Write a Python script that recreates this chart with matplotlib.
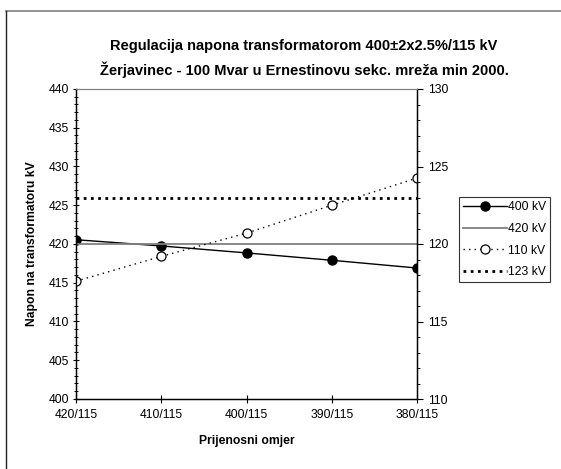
import matplotlib.pyplot as plt
from matplotlib.lines import Line2D
from matplotlib.ticker import MultipleLocator

plt.rcParams['font.family'] = ['Liberation Sans', 'DejaVu Sans']

omjeri = ['420/115', '410/115', '400/115', '390/115', '380/115']
napon_400 = [420.55, 419.75, 418.85, 417.9, 416.9]
napon_420 = [420, 420, 420, 420, 420]
napon_110 = [117.6, 119.2, 120.7, 122.5, 124.25]
napon_123 = [123, 123, 123, 123, 123]

x = list(range(len(omjeri)))

fig = plt.figure(figsize=(5.61, 4.69), dpi=100)
ax = fig.add_axes([76 / 561, 1 - 399 / 469, (417 - 76) / 561, (399 - 89) / 469])
ax2 = ax.twinx()

l1, = ax.plot(x, napon_400, color='black', lw=1.0, marker='o', ms=6.5,
              markerfacecolor='black', label='400 kV')
l2, = ax.plot(x, napon_420, color='#808080', lw=1.3, label='420 kV')
l3, = ax2.plot(x, napon_110, color='black', lw=1.0, ls=(0, (1, 3)), marker='o', ms=6.5,
               markerfacecolor='white', markeredgewidth=0.9, label='110 kV')
l4, = ax2.plot(x, napon_123, color='black', lw=2.0, ls=(0, (1, 1.6)), label='123 kV')

ax.set_xlim(0, 4)
ax.set_ylim(400, 440)
ax2.set_ylim(110, 130)
ax.set_xticks(x)
ax.set_xticklabels(omjeri)
ax.yaxis.set_major_locator(MultipleLocator(5))
ax.yaxis.set_minor_locator(MultipleLocator(1))
ax2.yaxis.set_major_locator(MultipleLocator(5))
ax2.yaxis.set_minor_locator(MultipleLocator(1))
ax.tick_params(axis='x', direction='inout', length=6, width=0.8, labelsize=8.7, pad=4)
ax.tick_params(axis='y', direction='inout', length=4.5, width=0.8, labelsize=8.7, pad=3)
ax.tick_params(axis='y', which='minor', direction='inout', length=3, width=0.7)
ax2.tick_params(axis='y', direction='out', length=4, width=0.8, labelsize=8.7, pad=4)
ax2.tick_params(axis='y', which='minor', direction='out', length=2.5, width=0.7)

for a in (ax, ax2):
    a.spines['top'].set_color('#808080')
    a.spines['top'].set_linewidth(0.8)
    a.spines['left'].set_linewidth(0.9)
    a.spines['right'].set_linewidth(0.9)
    a.spines['bottom'].set_linewidth(0.9)

ax.set_ylabel('Napon na transformatoru kV', fontsize=8.7, fontweight='bold', labelpad=7)
ax.set_xlabel('Prijenosni omjer', fontsize=8.7, fontweight='bold', labelpad=10)

fig.text(304 / 561, 1 - 46 / 469, 'Regulacija napona transformatorom 400±2x2.5%/115 kV',
         ha='center', va='center', fontsize=10.5, fontweight='bold')
fig.text(304 / 561, 1 - 70 / 469, 'Žerjavinec - 100 Mvar u Ernestinovu sekc. mreža min 2000.',
         ha='center', va='center', fontsize=10.5, fontweight='bold')

leg = fig.legend(handles=[l1, l2, l3, l4], loc='upper left',
                 bbox_to_anchor=(459 / 561, 1 - 197 / 469), fontsize=8.7,
                 frameon=True, fancybox=False, edgecolor='black', handlelength=3.6,
                 handletextpad=0.1, borderpad=0.35, labelspacing=0.8, borderaxespad=0)
leg.get_frame().set_linewidth(0.8)

# okvir grafikona
fig.add_artist(Line2D([6 / 561, 1], [1 - 11 / 469, 1 - 11 / 469], color='#808080', lw=1.2))
fig.add_artist(Line2D([6 / 561, 6 / 561], [0, 1 - 11 / 469], color='#202020', lw=1.0))

fig.savefig('out.png', dpi=100)
